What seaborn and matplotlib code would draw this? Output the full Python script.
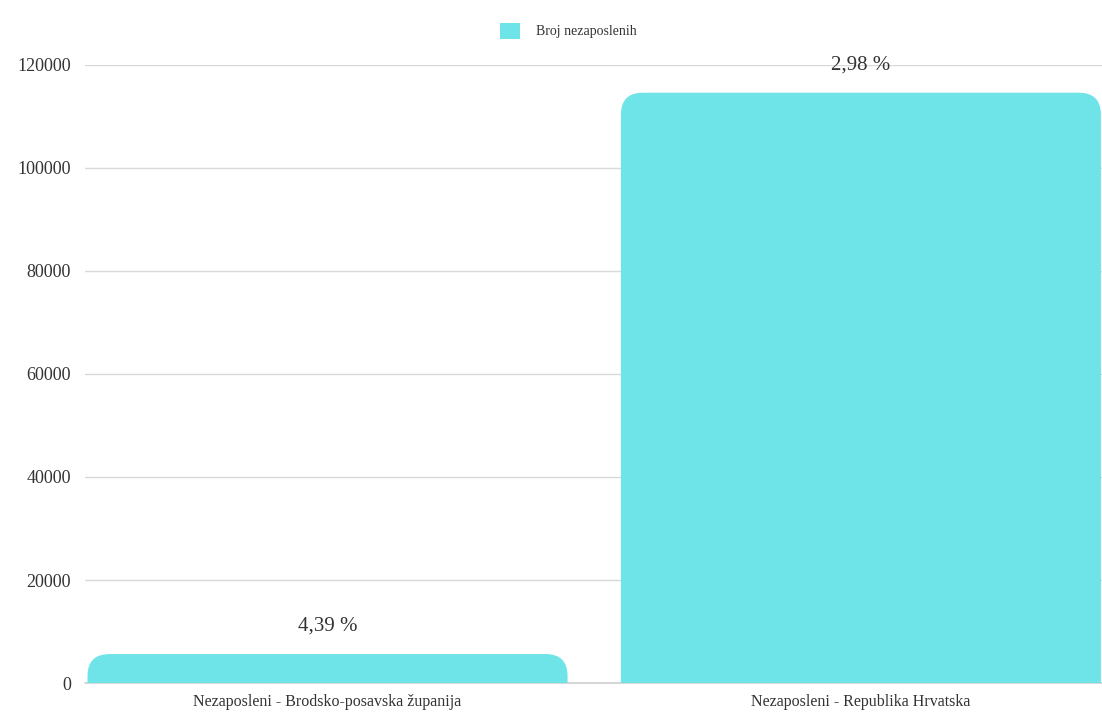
import matplotlib
matplotlib.use("Agg")
import matplotlib.pyplot as plt
from matplotlib.patches import FancyBboxPatch, Patch
import seaborn as sns
import pandas as pd

# Chart data
categories = ["Nezaposleni - Brodsko-posavska županija", "Nezaposleni - Republika Hrvatska"]
values = [5630, 114600]
pct_labels = ["4,39 %", "2,98 %"]
series_name = "Broj nezaposlenih"
yticks = [0, 20000, 40000, 60000, 80000, 100000, 120000]

bar_color = "#6ee4e8"
text_color = "#333333"

sns.set_theme(style="white")
plt.rcParams["font.family"] = ["Liberation Serif", "DejaVu Serif"]

df = pd.DataFrame({"cat": categories, "val": values})

fig = plt.figure(figsize=(11.02, 7.13), dpi=100)
ax = fig.add_axes([0.077, 0.042, 0.923, 0.867])

sns.barplot(data=df, x="cat", y="val", color=bar_color, width=0.9, ax=ax, saturation=1)

ax.set_xlim(-0.455, 1.452)
ax.set_ylim(0, 120000)
ax.set_yticks(yticks)
ax.set_yticklabels([str(t) for t in yticks], fontsize=13, color=text_color)
ax.tick_params(axis="x", labelsize=11.5, colors=text_color, length=0, pad=8)
ax.tick_params(axis="y", length=0, pad=10)
ax.set_xlabel("")
ax.set_ylabel("")
for s in ax.spines.values():
    s.set_visible(False)
ax.yaxis.grid(True, color="#d9d9d9", linewidth=1)
ax.set_axisbelow(True)
# baseline at zero
ax.axhline(0, color="#cfcfcf", linewidth=1.2, clip_on=False, zorder=1)

# swap plain bars for bars with rounded tops
fig.canvas.draw()
bbox = ax.get_window_extent()
xr = ax.get_xlim()
x_per_px = (xr[1] - xr[0]) / bbox.width
y_per_px = 120000 / bbox.height
rad_px = 22
rx = rad_px * x_per_px
ry = rad_px * y_per_px
for p in list(ax.patches):
    x, w, h = p.get_x(), p.get_width(), p.get_height()
    p.remove()
    rb = FancyBboxPatch((x, -ry), w, h + ry,
                        boxstyle=f"round,pad=0,rounding_size={rx}",
                        mutation_aspect=ry / rx,
                        facecolor=bar_color, edgecolor="none", zorder=2)
    ax.add_patch(rb)

for i, (v, lab) in enumerate(zip(values, pct_labels)):
    ax.annotate(lab, (i, v), xytext=(0, 13), textcoords="offset points",
                ha="center", va="bottom", fontsize=15, color=text_color,
                annotation_clip=False)

handles = [Patch(facecolor=bar_color, edgecolor="none")]
fig.legend(handles, [series_name], loc="center", bbox_to_anchor=(0.516, 0.957),
           frameon=False, fontsize=10, handlelength=1.4, handleheight=1.4,
           handletextpad=1.2, labelcolor=text_color)

fig.savefig("out.png", dpi=100)
